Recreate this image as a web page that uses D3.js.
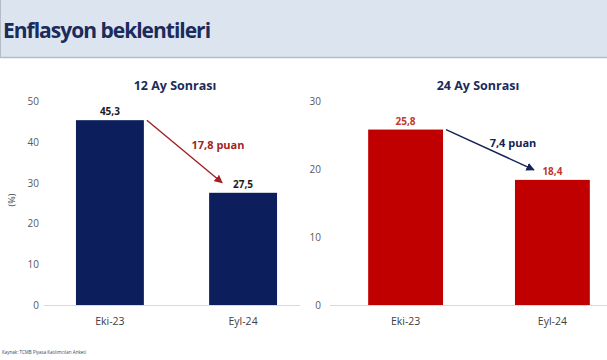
<!DOCTYPE html>
<html lang="en">
<head>
<meta charset="utf-8">
<script src="https://d3js.org/d3.v7.min.js"></script>
<style>
body { margin: 0; background: #fff; }
text { font-family: "Open Sans", "Noto Sans", sans-serif; }
</style>
</head>
<body>
<script>
// chart data
var categories = ["Eki-23", "Eyl-24"];
var values12 = [45.3, 27.5];
var values24 = [25.8, 18.4];
var ticks12 = [0, 10, 20, 30, 40, 50];
var ticks24 = [0, 10, 20, 30];
var diffLabels = ["17,8 puan", "7,4 puan"];

var width = 607, height = 360;
var navy = "#0c1f5c", red = "#c00000";

var svg = d3.select("body").append("svg")
    .attr("width", width)
    .attr("height", height);

// header band
svg.append("rect").attr("x", 0).attr("y", 0).attr("width", width).attr("height", 57)
    .style("fill", "#dce4f0");
svg.append("line").attr("x1", 0).attr("x2", width).attr("y1", 57.5).attr("y2", 57.5)
    .style("stroke", "#b4bcc8").style("stroke-width", 1.5);
svg.append("line").attr("x1", 0.5).attr("x2", 0.5).attr("y1", 0).attr("y2", 57)
    .style("stroke", "#b4bcc8");
svg.append("text").attr("x", 3).attr("y", 38)
    .style("font-size", "21px").style("font-weight", "bold").style("fill", "#1b2b5b")
    .style("letter-spacing", "-1px")
    .text("Enflasyon beklentileri");

var fmt = function(v) { return String(v).replace(".", ","); };

function drawPanel(opt) {
    var x = d3.scaleBand().domain(categories).range(opt.xr)
        .paddingInner(0.49).paddingOuter(opt.outer);
    var y = d3.scaleLinear().domain([0, opt.max]).range([305, 101]);
    var g = svg.append("g");

    // baseline
    g.append("line").attr("x1", opt.lineStart).attr("x2", opt.lineEnd)
        .attr("y1", y(0) + 0.5).attr("y2", y(0) + 0.5)
        .style("stroke", "#d9d9d9");

    // y ticks
    g.selectAll(".tick").data(opt.ticks).enter().append("text")
        .attr("x", opt.tickX).attr("y", function(d) { return y(d) + 4; })
        .attr("text-anchor", "end")
        .style("font-size", "10px").style("fill", "#595959")
        .text(function(d) { return d; });

    // bars
    g.selectAll("rect.bar").data(opt.values).enter().append("rect")
        .attr("x", function(d, i) { return x(categories[i]); })
        .attr("y", function(d) { return y(d); })
        .attr("width", x.bandwidth())
        .attr("height", function(d) { return y(0) - y(d); })
        .style("fill", opt.color);

    // value labels
    g.selectAll("text.val").data(opt.values).enter().append("text")
        .attr("x", function(d, i) { return x(categories[i]) + x.bandwidth() / 2; })
        .attr("y", function(d) { return y(d) - 5; })
        .attr("text-anchor", "middle")
        .style("font-size", "10px").style("font-weight", "bold").style("fill", opt.valColor)
        .text(fmt);

    // category labels
    g.selectAll("text.cat").data(categories).enter().append("text")
        .attr("x", function(d) { return x(d) + x.bandwidth() / 2; })
        .attr("y", 325)
        .attr("text-anchor", "middle")
        .style("font-size", "10.5px").style("fill", "#404040")
        .text(function(d) { return d; });

    // title
    g.append("text").attr("x", opt.titleX).attr("y", 90)
        .attr("text-anchor", "middle")
        .style("font-size", "12.5px").style("font-weight", "bold").style("fill", "#1b2b5b")
        .text(opt.title);

    // arrow
    var x0 = x(categories[0]) + x.bandwidth() + 3, y0 = y(opt.values[0]);
    var x1 = x(categories[1]) + opt.arrowEndDx, y1 = y(opt.values[1]) - 10;
    g.append("line").attr("x1", x0).attr("y1", y0).attr("x2", x1).attr("y2", y1)
        .style("stroke", opt.arrowColor).style("stroke-width", 1.4)
        .attr("marker-end", "url(#" + opt.id + ")");
    svg.append("defs").append("marker").attr("id", opt.id)
        .attr("viewBox", "0 0 10 10").attr("refX", 9).attr("refY", 5)
        .attr("markerWidth", 6).attr("markerHeight", 6).attr("orient", "auto")
        .append("path").attr("d", "M0,0L10,5L0,10z").style("fill", opt.arrowColor);

    g.append("text").attr("x", opt.diffX).attr("y", opt.diffY)
        .attr("text-anchor", "middle")
        .style("font-size", "11px").style("font-weight", "bold").style("fill", opt.arrowColor)
        .text(opt.diff);
}

drawPanel({
    id: "arr1", xr: [44, 309], outer: 0.24, max: 50, ticks: ticks12, values: values12,
    color: navy, valColor: "#1b1b1b", tickX: 39, lineStart: 44, lineEnd: 300,
    title: "12 Ay Sonrası", titleX: 175, arrowColor: "#a31f24", arrowEndDx: 13,
    diff: diffLabels[0], diffX: 218, diffY: 149
});
drawPanel({
    id: "arr2", xr: [330, 628], outer: 0.26, max: 30, ticks: ticks24, values: values24,
    color: red, valColor: "#c0392b", tickX: 321, lineStart: 330, lineEnd: width,
    title: "24 Ay Sonrası", titleX: 478, arrowColor: "#132356", arrowEndDx: 19,
    diff: diffLabels[1], diffX: 513, diffY: 147
});

// y unit label
svg.append("text").attr("transform", "translate(15,200) rotate(-90)")
    .attr("text-anchor", "middle")
    .style("font-size", "9px").style("fill", "#404040")
    .text("(%)");

// source
svg.append("text").attr("x", 2).attr("y", 354)
    .style("font-size", "4.5px").style("fill", "#404060")
    .text("Kaynak: TCMB Piyasa Katılımcıları Anketi");
</script>
</body>
</html>
